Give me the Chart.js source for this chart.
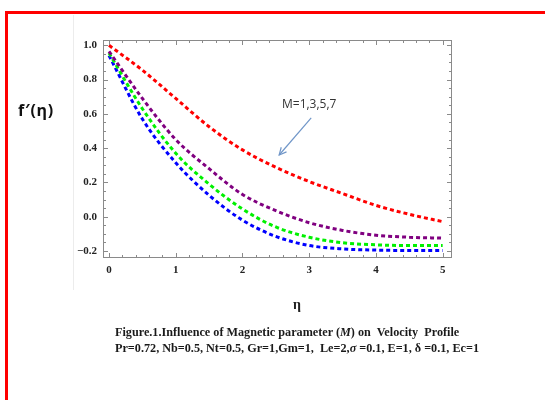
<!DOCTYPE html>
<html>
<head>
<meta charset="utf-8">
<script src="https://cdn.jsdelivr.net/npm/chart.js@4/dist/chart.umd.min.js"></script>
<style>
  html, body { margin:0; padding:0; background:#fff; width:545px; height:400px; overflow:hidden; position:relative; }
  #frame { position:absolute; left:5px; top:11px; width:600px; height:500px; border:3px solid #ff0000; box-sizing:border-box; }
  #vline { position:absolute; left:73px; top:15px; width:1px; height:275px; background:#ececec; }
  #wrap { position:absolute; left:0; top:0; width:545px; height:400px; }
  .t { position:absolute; white-space:pre; line-height:1; }
  #ylab { left:18px; top:102px; font-family:'Open Sans','Liberation Sans',sans-serif; font-weight:bold; font-size:16px; color:#111; letter-spacing:0.7px; }
  #xlab { left:293px; top:298px; font-family:'Liberation Serif','DejaVu Serif',serif; font-weight:bold; font-size:14px; color:#222; }
  .cap { left:115px; font-family:'Liberation Serif','DejaVu Serif',serif; font-weight:bold; font-size:12.2px; color:#1a1a1a; }
  #cap1 { top:326px; }
  #cap2 { top:342px; }
</style>
</head>
<body>
<div id="frame"></div>
<div id="vline"></div>
<div id="wrap"><canvas id="c" width="545" height="400"></canvas></div>
<div class="t" id="ylab">f′(η)</div>
<div class="t" id="xlab">η</div>
<div class="t cap" id="cap1">Figure.1.Influence of Magnetic parameter (<i>M</i>) on  Velocity  Profile</div>
<div class="t cap" id="cap2">Pr=0.72, Nb=0.5, Nt=0.5, Gr=1,Gm=1,  Le=2,<i>σ</i> =0.1, E=1, δ =0.1, Ec=1</div>
<script>
// ---- data ----
const eta = [0, 0.5, 1, 1.5, 2, 2.5, 3, 3.5, 4, 4.5, 5];
const fM1 = [1.0, 0.855, 0.69, 0.525, 0.39, 0.288, 0.205, 0.135, 0.066, 0.014, -0.029];
const fM3 = [0.965, 0.69, 0.45, 0.28, 0.13, 0.035, -0.035, -0.08, -0.108, -0.12, -0.125];
const fM5 = [0.955, 0.63, 0.37, 0.19, 0.045, -0.06, -0.12, -0.152, -0.164, -0.168, -0.168];
const fM7 = [0.94, 0.57, 0.315, 0.125, -0.02, -0.115, -0.168, -0.188, -0.195, -0.197, -0.197];
const seriesNames = ['M=1', 'M=3', 'M=5', 'M=7'];
const seriesColors = ['#ff0000', '#800080', '#00f000', '#0000ff'];
const xTicks = [0, 1, 2, 3, 4, 5];
const yTicks = [-0.2, 0, 0.2, 0.4, 0.6, 0.8, 1.0];
const annotationText = 'M=1,3,5,7';
const annotationAt = {x: 3.0, y: 0.652};
const arrowFrom = {x: 3.03, y: 0.576};
const arrowTo = {x: 2.55, y: 0.36};

const allSeries = [fM1, fM3, fM5, fM7];
const datasets = allSeries.map((arr, i) => ({
  label: seriesNames[i],
  data: eta.map((e, k) => ({x: e, y: arr[k]})),
  borderColor: seriesColors[i],
  borderWidth: 3,
  borderDash: [4, 3],
  pointRadius: 0,
  fill: false,
  cubicInterpolationMode: 'monotone'
}));

function fmt(v) {
  const s = Math.abs(v).toFixed(1);
  return v < -1e-9 ? '\u2212' + s : s;
}

const frameTicks = {
  id: 'frameTicks',
  afterDatasetsDraw(chart) {
    const {ctx, chartArea: a, scales: {x, y}} = chart;
    ctx.save();
    ctx.strokeStyle = '#8a8a8a';
    ctx.lineWidth = 1;
    ctx.strokeRect(a.left + 0.5, a.top + 0.5, a.right - a.left - 1, a.bottom - a.top - 1);
    ctx.beginPath();
    for (let i = 0; i <= 25; i++) {
      const v = i * 0.2;
      const px = Math.round(x.getPixelForValue(v)) + 0.5;
      const len = (i % 5 === 0) ? 5 : 3;
      ctx.moveTo(px, a.bottom); ctx.lineTo(px, a.bottom - len);
      ctx.moveTo(px, a.top); ctx.lineTo(px, a.top + len);
    }
    for (let i = -4; i <= 20; i++) {
      const v = i * 0.05;
      const py = Math.round(y.getPixelForValue(v)) + 0.5;
      const len = (i % 4 === 0) ? 5 : 3;
      ctx.moveTo(a.left, py); ctx.lineTo(a.left + len, py);
      ctx.moveTo(a.right, py); ctx.lineTo(a.right - len, py);
    }
    ctx.stroke();

    const x1 = x.getPixelForValue(arrowFrom.x), y1 = y.getPixelForValue(arrowFrom.y);
    const x2 = x.getPixelForValue(arrowTo.x), y2 = y.getPixelForValue(arrowTo.y);
    ctx.strokeStyle = '#7096c8';
    ctx.lineWidth = 1.2;
    ctx.beginPath(); ctx.moveTo(x1, y1); ctx.lineTo(x2, y2); ctx.stroke();
    const ang = Math.atan2(y2 - y1, x2 - x1);
    const h = 8;
    ctx.beginPath();
    ctx.moveTo(x2 - h * Math.cos(ang - 0.45), y2 - h * Math.sin(ang - 0.45));
    ctx.lineTo(x2, y2);
    ctx.lineTo(x2 - h * Math.cos(ang + 0.45), y2 - h * Math.sin(ang + 0.45));
    ctx.stroke();
    ctx.fillStyle = '#333';
    ctx.font = '12px "Open Sans", "Liberation Sans", sans-serif';
    ctx.textAlign = 'center';
    ctx.textBaseline = 'middle';
    ctx.fillText(annotationText, x.getPixelForValue(annotationAt.x), y.getPixelForValue(annotationAt.y));
    ctx.restore();
  }
};

new Chart(document.getElementById('c'), {
  type: 'line',
  data: { datasets },
  options: {
    responsive: false,
    animation: false,
    devicePixelRatio: 1,
    layout: { padding: { left: 0, top: 40, right: 93, bottom: 0 } },
    plugins: { legend: { display: false }, tooltip: { enabled: false }, title: { display: false } },
    scales: {
      x: {
        type: 'linear', min: -0.09, max: 5.14,
        grid: { display: false, drawTicks: false },
        border: { display: false },
        afterBuildTicks: s => { s.ticks = xTicks.map(v => ({value: v})); },
        afterFit: s => { s.height = 142; },
        ticks: { padding: 6, color: '#222', font: { family: '"Liberation Serif", "DejaVu Serif", serif', weight: 'bold', size: 11 }, callback: v => String(v), maxRotation: 0 }
      },
      y: {
        type: 'linear', min: -0.241, max: 1.031,
        grid: { display: false, drawTicks: false },
        border: { display: false },
        afterBuildTicks: s => { s.ticks = yTicks.map(v => ({value: v})); },
        afterFit: s => { s.width = 103; },
        ticks: { padding: 6, color: '#222', font: { family: '"Liberation Serif", "DejaVu Serif", serif', weight: 'bold', size: 11 }, callback: v => fmt(v) }
      }
    }
  },
  plugins: [frameTicks]
});
</script>
</body>
</html>
